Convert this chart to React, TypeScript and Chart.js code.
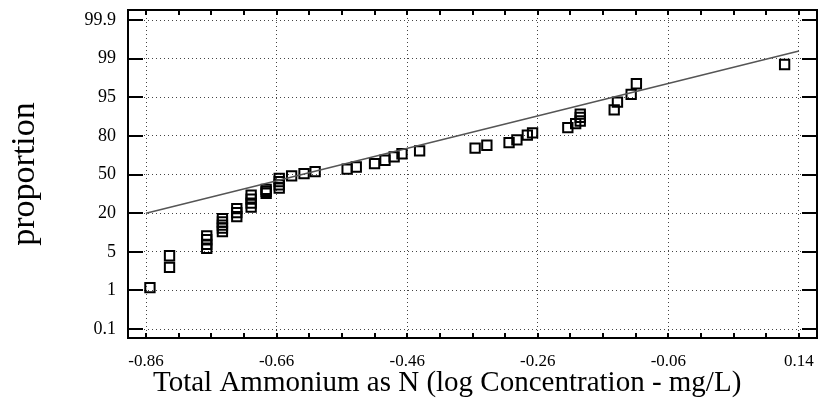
import React, { useEffect, useRef } from 'react';
import { Chart, registerables } from 'chart.js';

Chart.register(...registerables);

// Probability axis: labels are evenly spaced
const yTickLabels = ['0.1', '1', '5', '20', '50', '80', '95', '99', '99.9'];
const yTickValues = [0.1, 1, 5, 20, 50, 80, 95, 99, 99.9];
const xTickValues = [-0.86, -0.66, -0.46, -0.26, -0.06, 0.14];

// Observations: log concentration (mg/L) and cumulative proportion (%)
const concentration = [
  -0.854, -0.824, -0.824,
  -0.767, -0.767, -0.767, -0.767,
  -0.743, -0.743, -0.743, -0.743, -0.743,
  -0.721, -0.721, -0.721,
  -0.699, -0.699, -0.699, -0.699,
  -0.676, -0.676, -0.676,
  -0.656, -0.656, -0.656, -0.656,
  -0.637, -0.618, -0.601, -0.552, -0.538, -0.51, -0.494, -0.48, -0.468, -0.441,
  -0.356, -0.338, -0.304, -0.292, -0.276, -0.268,
  -0.214, -0.202, -0.195, -0.195, -0.195,
  -0.143, -0.138, -0.117, -0.109, 0.118,
];
const proportion = [
  1.3, 3.4, 4.6,
  6.4, 7.9, 9.7, 11.2,
  12.9, 14.2, 15.4, 16.6, 17.9,
  18.7, 20.5, 23.6,
  24.7, 27.8, 30.9, 34.0,
  35.5, 37.0, 38.5,
  39.5, 42.0, 44.5, 47.0,
  49.0, 50.8, 52.3, 54.2, 55.9, 58.5, 61.1, 63.7, 66.2, 68.4,
  70.5, 72.8, 74.8, 76.9, 80.3, 81.2,
  83.2, 84.8, 85.8, 87.2, 88.5,
  90.1, 93.1, 95.3, 96.4, 98.4,
];

// Fitted normal line (end points)
const fitConcentration = [-0.86, 0.14];
const fitProportion = [20, 99.18];

const SERIF = "'Liberation Serif', 'Times New Roman', serif";

// position on the evenly spaced probability axis
function probPos(p: number): number {
  for (let i = 0; i < yTickValues.length - 1; i++) {
    const a = yTickValues[i];
    const b = yTickValues[i + 1];
    if (p <= b || i === yTickValues.length - 2) {
      return i + (p - a) / (b - a);
    }
  }
  return 0;
}

const framePlugin = {
  id: 'frame',
  afterDraw(chart: any) {
    const { ctx, chartArea: a, scales } = chart;
    ctx.save();
    ctx.strokeStyle = '#000';
    ctx.lineWidth = 2;
    ctx.strokeRect(a.left, a.top, a.right - a.left, a.bottom - a.top);
    ctx.beginPath();
    for (let i = 0; i < yTickValues.length; i++) {
      const y = Math.round(scales.y.getPixelForValue(i));
      ctx.moveTo(a.left, y);
      ctx.lineTo(a.left + 15, y);
      ctx.moveTo(a.right - 15, y);
      ctx.lineTo(a.right, y);
    }
    for (let i = 0; i <= 20; i++) {
      const x = Math.round(scales.x.getPixelForValue(-0.86 + 0.05 * i));
      ctx.moveTo(x, a.bottom);
      ctx.lineTo(x, a.bottom - 5);
      ctx.moveTo(x, a.top);
      ctx.lineTo(x, a.top + 5);
    }
    ctx.stroke();
    ctx.restore();
  },
};

export default function App() {
  const ref = useRef<HTMLCanvasElement | null>(null);

  useEffect(() => {
    if (!ref.current) return;
    const points = concentration.map((x, i) => ({ x, y: probPos(proportion[i]) }));
    const fit = fitConcentration.map((x, i) => ({ x, y: probPos(fitProportion[i]) }));

    const chart = new Chart(ref.current, {
      type: 'scatter',
      data: {
        datasets: [
          {
            type: 'line',
            data: fit,
            borderColor: '#555',
            borderWidth: 1.5,
            pointRadius: 0,
            fill: false,
          },
          {
            data: points,
            pointStyle: 'rect',
            pointRadius: 6.6,
            pointBorderWidth: 2,
            pointBorderColor: '#000',
            pointBackgroundColor: 'rgba(255,255,255,0)',
          },
        ],
      } as any,
      options: {
        responsive: false,
        animation: false,
        events: [],
        layout: { autoPadding: false, padding: { top: 10, right: 1, left: 0, bottom: 0 } },
        plugins: { legend: { display: false }, tooltip: { enabled: false } },
        scales: {
          x: {
            type: 'linear',
            min: -0.8876,
            max: 0.1676,
            afterFit: (s: any) => { s.height = 77; s.paddingLeft = 0; s.paddingRight = 0; },
            afterBuildTicks: (s: any) => { s.ticks = xTickValues.map((v) => ({ value: v })); },
            ticks: {
              callback: (v: any) => Number(v).toFixed(2),
              color: '#000',
              font: { family: SERIF, size: 17 },
              padding: 13,
              maxRotation: 0,
              autoSkip: false,
            },
            grid: { color: '#444', lineWidth: 1, drawTicks: false },
            border: { display: false, dash: [1, 3] },
            title: {
              display: true,
              text: 'Total Ammonium as N (log Concentration - mg/L)\u00a0\u00a0\u00a0\u00a0\u00a0\u00a0\u00a0',
              color: '#000',
              font: { family: SERIF, size: 29 },
              padding: { top: 0, bottom: 14 },
            },
          },
          y: {
            type: 'linear',
            min: -0.23,
            max: 8.26,
            afterFit: (s: any) => { s.width = 128; s.paddingTop = 0; s.paddingBottom = 0; },
            afterBuildTicks: (s: any) => { s.ticks = yTickLabels.map((_, i) => ({ value: i })); },
            ticks: {
              callback: (v: any) => yTickLabels[Math.round(Number(v))],
              color: '#000',
              font: { family: SERIF, size: 18 },
              padding: 12,
              autoSkip: false,
            },
            grid: { color: '#444', lineWidth: 1, drawTicks: false },
            border: { display: false, dash: [1, 3] },
            title: {
              display: true,
              text: 'proportion',
              color: '#000',
              font: { family: SERIF, size: 34 },
              padding: { top: 5, bottom: 0 },
            },
          },
        },
      },
      plugins: [framePlugin],
    } as any);
    return () => chart.destroy();
  }, []);

  return (
    <div style={{ position: 'absolute', left: 0, top: 0, width: 818, height: 415, background: '#fff' }}>
      <canvas ref={ref} width={818} height={415} style={{ display: 'block' }} />
    </div>
  );
}
